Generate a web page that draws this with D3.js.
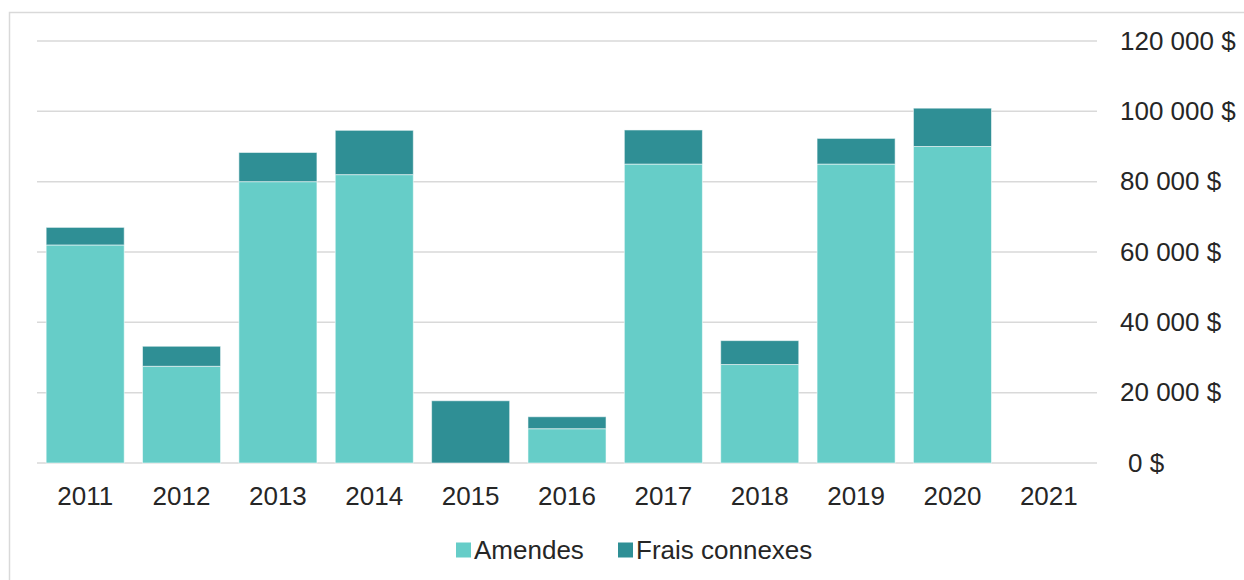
<!DOCTYPE html>
<html lang="fr">

<head>
    <meta charset="UTF-8">
    <title>Amendes et frais connexes</title>
    <script src="https://cdn.jsdelivr.net/npm/d3@7/dist/d3.min.js"></script>
    <style>
        body {
            margin: 0;
            background: #fff;
        }

        text {
            font-family: "Liberation Sans", Arial, sans-serif;
            fill: #262626;
        }
    </style>
</head>

<body>
    <div id="chart"></div>
</body>

</html>
<script>
    // données
    const years = ['2011', '2012', '2013', '2014', '2015', '2016', '2017', '2018', '2019', '2020', '2021']
    const amendes = [62000, 27500, 80000, 82000, 0, 9750, 85000, 28000, 85000, 90000, 0]
    const frais = [5000, 5700, 8300, 12600, 17700, 3400, 9700, 6800, 7300, 10900, 0]
    const yTicks = [0, 20000, 40000, 60000, 80000, 100000, 120000]
    const seriesNames = ['Amendes', 'Frais connexes']
    const colors = ['#66cdc8', '#2f8f95']

    const width = 1244,
        height = 580,
        plot = { left: 37, right: 1097, top: 41, bottom: 463 }

    const svg = d3.select('#chart').append('svg').attr('width', width).attr('height', height)

    // cadre du graphique (coupé à droite et en bas)
    svg.append('rect')
        .attr('x', 9.5).attr('y', 12.5)
        .attr('width', 1400).attr('height', 800)
        .attr('fill', 'none').attr('stroke', '#d9d9d9').attr('stroke-width', 1.5)

    const x = d3.scaleBand().domain(years).range([plot.left, plot.right]).paddingInner(0.19).paddingOuter(0.095)
    const y = d3.scaleLinear().domain([0, 120000]).range([plot.bottom, plot.top])

    const fmt = v => d3.format(',')(v).replace(/,/g, ' ') + ' $'

    // grille horizontale
    svg.append('g').selectAll('line').data(yTicks).join('line')
        .attr('x1', plot.left).attr('x2', plot.right)
        .attr('y1', d => y(d)).attr('y2', d => y(d))
        .attr('stroke', '#d9d9d9').attr('stroke-width', 1.5)

    // étiquettes de l'axe y (à droite)
    const yAxis = d3.axisRight(y).tickValues(yTicks).tickFormat(fmt).tickSize(0).tickPadding(0)
    const gy = svg.append('g').attr('transform', `translate(1120,0)`).call(yAxis)
    gy.select('.domain').remove()
    gy.selectAll('text')
        .attr('font-size', 26).attr('fill', '#262626')
        .style('font-family', '"Liberation Sans", Arial, sans-serif')
        .attr('x', d => d === 0 ? 8 : 0)

    // étiquettes de l'axe x
    const xAxis = d3.axisBottom(x).tickSize(0).tickPadding(0)
    const gx = svg.append('g').attr('transform', `translate(0,${plot.bottom})`).call(xAxis)
    gx.select('.domain').remove()
    gx.selectAll('text')
        .attr('font-size', 26).attr('fill', '#262626')
        .style('font-family', '"Liberation Sans", Arial, sans-serif')
        .attr('y', 42).attr('dy', 0)

    // barres empilées
    const table = years.map((yr, i) => ({ year: yr, Amendes: amendes[i], 'Frais connexes': frais[i] }))
    const stacked = d3.stack().keys(seriesNames)(table)

    svg.append('g').selectAll('g').data(stacked).join('g')
        .attr('fill', (d, i) => colors[i])
        .selectAll('rect').data(d => d.filter(s => s[1] > s[0])).join('rect')
        .attr('x', d => x(d.data.year))
        .attr('width', x.bandwidth())
        .attr('y', d => y(d[1]))
        .attr('height', d => y(d[0]) - y(d[1]))
        .attr('stroke', 'rgba(255,255,255,0.55)').attr('stroke-width', 1)

    // légende
    const legendItems = [{ name: seriesNames[0], x: 456 }, { name: seriesNames[1], x: 618 }]
    const lg = svg.append('g').selectAll('g').data(legendItems).join('g')
        .attr('transform', d => `translate(${d.x},550)`)
    lg.append('rect').attr('x', 0).attr('y', -7.5).attr('width', 15).attr('height', 15)
        .attr('fill', (d, i) => colors[i])
    lg.append('text').attr('x', 18).attr('y', 9).attr('font-size', 26).text(d => d.name)
</script>
